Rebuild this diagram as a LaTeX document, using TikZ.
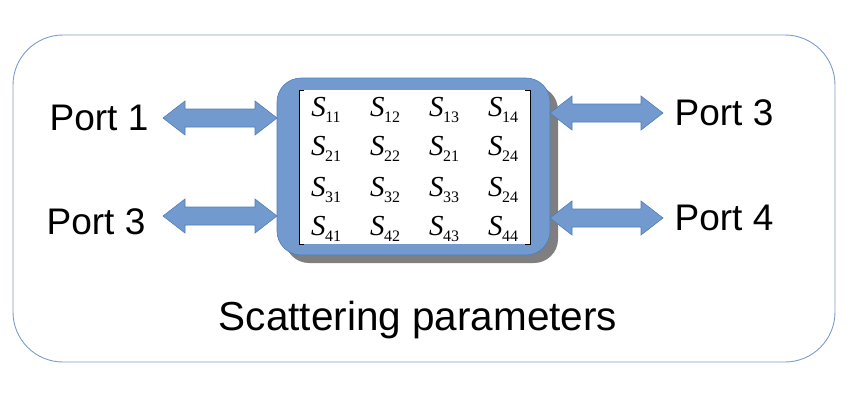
\documentclass[tikz,border=0pt]{standalone}
\usepackage{fontspec}
\setmainfont{Liberation Sans}
\newfontfamily\serifS{Liberation Serif}
\definecolor{boxblue}{HTML}{729ACF}
\definecolor{edgeblue}{HTML}{4F7DBA}
\definecolor{frameblue}{HTML}{7C9BCB}
\definecolor{shadowgray}{HTML}{7F7F7F}
\newcommand{\Sent}[1]{{\serifS\fontsize{29}{29}\selectfont\itshape S\kern-0.5pt\raisebox{-6pt}{\fontsize{16}{16}\selectfont\upshape #1}}}
\newcommand{\dblarrow}[3]{%
  \fill[boxblue,draw=edgeblue,line width=0.6pt,line join=miter]
  (#1,#3) -- (#1+22,#3-17) -- (#1+22,#3-9) -- (#2-22,#3-9) -- (#2-22,#3-17) -- (#2,#3)
  -- (#2-22,#3+17) -- (#2-22,#3+9) -- (#1+22,#3+9) -- (#1+22,#3+17) -- cycle;}
\tikzset{
  porttext/.style={font=\fontsize{37}{37}\selectfont, inner sep=0pt, anchor=center},
  entry/.style={inner sep=0pt, anchor=center}
}
\begin{document}
\begin{tikzpicture}[x=1pt,y=-1pt]
\useasboundingbox (0,0) rectangle (848,400);
% outer frame
\draw[frameblue, line width=0.9pt, rounded corners=50pt] (13,35) rectangle (835,362) node[pos=0.5,inner sep=0pt] (frame) {};
% shadow and blue box
\fill[shadowgray, rounded corners=24pt] (285,86) rectangle (558,263);
\draw[fill=boxblue, draw=edgeblue, line width=0.6pt, rounded corners=24pt] (277,78) rectangle (550,255);
% inner white matrix area
\fill[white] (299,90) rectangle (530,244);
\draw[black, line width=0.7pt] (304,90) -- (299,90) -- (299,244) -- (304,244);
\draw[black, line width=0.7pt] (525,90) -- (530,90) -- (530,244) -- (525,244);
% arrows
\dblarrow{163}{277}{118}
\dblarrow{163}{277}{216}
\dblarrow{550}{663}{113}
\dblarrow{550}{663}{218}
% matrix entries
\node[entry] (s11) at (326,110) {\Sent{11}};
\node[entry] (s12) at (385,110) {\Sent{12}};
\node[entry] (s13) at (444,110) {\Sent{13}};
\node[entry] (s14) at (503,110) {\Sent{14}};
\node[entry] (s21) at (326,149) {\Sent{21}};
\node[entry] (s22) at (385,149) {\Sent{22}};
\node[entry] (s23) at (444,149) {\Sent{21}};
\node[entry] (s24) at (503,149) {\Sent{24}};
\node[entry] (s31) at (326,190) {\Sent{31}};
\node[entry] (s32) at (385,190) {\Sent{32}};
\node[entry] (s33) at (444,190) {\Sent{33}};
\node[entry] (s34) at (503,190) {\Sent{24}};
\node[entry] (s41) at (326,229) {\Sent{41}};
\node[entry] (s42) at (385,229) {\Sent{42}};
\node[entry] (s43) at (444,229) {\Sent{43}};
\node[entry] (s44) at (503,229) {\Sent{44}};
% labels
\node[porttext] (p1) at (99,118) {Port 1};
\node[porttext] (p3l) at (96,222) {Port 3};
\node[porttext] (p3r) at (724,113) {Port 3};
\node[porttext] (p4) at (724,218) {Port 4};
\node[porttext, font=\fontsize{40.5}{40.5}\selectfont] (title) at (418,320) {Scattering parameters};
\end{tikzpicture}
\end{document}
